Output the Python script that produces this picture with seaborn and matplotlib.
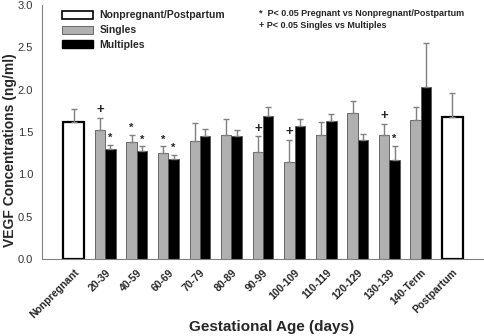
import numpy as np
import pandas as pd
import matplotlib
matplotlib.use("Agg")
import matplotlib.pyplot as plt
import matplotlib.transforms as mtransforms
import seaborn as sns
from matplotlib.patches import Patch

categories = ["Nonpregnant", "20-39", "40-59", "60-69", "70-79", "80-89", "90-99",
              "100-109", "110-119", "120-129", "130-139", "140-Term", "Postpartum"]
preg_cats = categories[1:12]
singles = [1.53, 1.38, 1.25, 1.39, 1.46, 1.27, 1.15, 1.46, 1.72, 1.47, 1.64]
singles_err = [0.14, 0.09, 0.08, 0.22, 0.20, 0.18, 0.26, 0.16, 0.15, 0.13, 0.16]
multiples = [1.30, 1.275, 1.18, 1.45, 1.45, 1.69, 1.57, 1.63, 1.41, 1.17, 2.03]
multiples_err = [0.05, 0.055, 0.05, 0.09, 0.08, 0.10, 0.08, 0.08, 0.07, 0.17, 0.52]
np_cats = ["Nonpregnant", "Postpartum"]
np_vals = [1.62, 1.68]
np_err = [0.15, 0.28]
singles_marks = ["+", "*", "*", "", "", "+", "+", "", "", "+", ""]
multiples_marks = ["*", "*", "*", "", "", "", "", "", "", "*", ""]

sns.set_style("white")
plt.rcParams['font.family'] = ['Liberation Sans', 'DejaVu Sans']

fig = plt.figure(figsize=(4.84, 3.36), dpi=100)
ax = fig.add_axes([0.087, 0.229, 0.913, 0.756])

preg_df = pd.DataFrame({
    "cat": preg_cats * 2,
    "val": singles + multiples,
    "grp": ["Singles"] * len(preg_cats) + ["Multiples"] * len(preg_cats),
})
sns.barplot(data=preg_df, x="cat", y="val", hue="grp", order=categories,
            hue_order=["Singles", "Multiples"], palette=["#b0b0b0", "#000000"],
            width=0.66, errorbar=None, edgecolor="#555555", linewidth=0.6,
            legend=False, ax=ax, saturation=1)
np_df = pd.DataFrame({"cat": np_cats, "val": np_vals})
sns.barplot(data=np_df, x="cat", y="val", order=categories, color="white",
            width=0.66, errorbar=None, edgecolor="black", linewidth=1.6,
            ax=ax, saturation=1)

idx = {c: i for i, c in enumerate(categories)}
off = 0.165
sx = np.array([idx[c] for c in preg_cats]) - off
mx = np.array([idx[c] for c in preg_cats]) + off
nx = np.array([idx[c] for c in np_cats])
ekw = dict(fmt="none", ecolor="#808080", elinewidth=1, capsize=2.5, capthick=1, zorder=1)
ax.errorbar(sx, singles, yerr=[np.zeros(len(singles)), singles_err], **ekw)
ax.errorbar(mx, multiples, yerr=[np.zeros(len(multiples)), multiples_err], **ekw)
ax.errorbar(nx, np_vals, yerr=[np.zeros(len(np_vals)), np_err], **ekw)

for x, v, e, m in zip(sx, singles, singles_err, singles_marks):
    if m:
        ax.text(x, v + e + 0.02, m, ha="center", va="bottom", fontweight="bold",
                fontsize=9.5 if m == "+" else 8)
for x, v, e, m in zip(mx, multiples, multiples_err, multiples_marks):
    if m:
        ax.text(x, v + e + 0.02, m, ha="center", va="bottom", fontweight="bold",
                fontsize=9.5 if m == "+" else 8)

ax.set_xlim(-1, 13)
ax.set_ylim(0, 3.0)
ax.set_yticks(np.arange(0, 3.01, 0.5))
ax.set_yticklabels([f"{t:.1f}" for t in np.arange(0, 3.01, 0.5)], fontsize=8, color="#333333")
ax.set_xticks(range(len(categories)))
ax.set_xticklabels(categories, rotation=45, ha="right", rotation_mode="anchor",
                   fontsize=7.5, fontweight="bold")
shift = mtransforms.ScaledTranslation(6 / 100, 0, fig.dpi_scale_trans)
for lbl in ax.get_xticklabels():
    lbl.set_transform(lbl.get_transform() + shift)
ax.tick_params(axis="both", direction="out", length=3, width=0.8, color="#808080")
ax.tick_params(axis="x", pad=3)
for s in ["top", "right"]:
    ax.spines[s].set_visible(False)
for s in ["left", "bottom"]:
    ax.spines[s].set_color("#808080")
    ax.spines[s].set_linewidth(0.8)
ax.set_xlabel("Gestational Age (days)", fontsize=11, fontweight="bold", va="bottom")
ax.xaxis.set_label_coords(0.52, -0.297)
ax.set_ylabel("VEGF Concentrations (ng/ml)", fontsize=10, fontweight="bold",
              va="center", ha="center", rotation_mode="anchor")
ax.yaxis.set_label_coords(-0.073, 0.43)

handles = [Patch(facecolor="white", edgecolor="black", linewidth=1.2, label="Nonpregnant/Postpartum"),
           Patch(facecolor="#b0b0b0", edgecolor="#555555", linewidth=0.6, label="Singles"),
           Patch(facecolor="black", edgecolor="black", label="Multiples")]
ax.legend(handles=handles, loc="upper left", bbox_to_anchor=(0.035, 0.995), frameon=False,
          prop={"weight": "bold", "size": 7.5}, handlelength=3.0, handleheight=0.8,
          labelspacing=0.45, handletextpad=0.6, borderaxespad=0)

ax.text(0.49, 0.968, "*  P< 0.05 Pregnant vs Nonpregnant/Postpartum", transform=ax.transAxes,
        fontsize=6.5, fontweight="bold", va="center", ha="left")
ax.text(0.49, 0.918, "+ P< 0.05 Singles vs Multiples", transform=ax.transAxes,
        fontsize=6.5, fontweight="bold", va="center", ha="left")

fig.savefig("out.png", dpi=100)
